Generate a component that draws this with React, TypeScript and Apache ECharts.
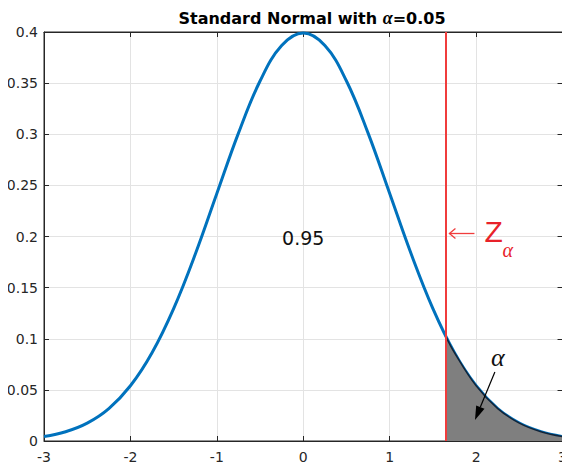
import React, { useEffect, useRef } from "react";
import * as echarts from "echarts";

const xs = [-3, -2.75, -2.5, -2.25, -2, -1.75, -1.5, -1.25, -1, -0.75, -0.5, -0.25, 0, 0.25, 0.5, 0.75, 1, 1.25, 1.5, 1.75, 2, 2.25, 2.5, 2.75, 3];
const density = [0.0044, 0.0091, 0.0175, 0.0317, 0.054, 0.0863, 0.1295, 0.1826, 0.242, 0.3011, 0.3521, 0.3867, 0.3989, 0.3867, 0.3521, 0.3011, 0.242, 0.1826, 0.1295, 0.0863, 0.054, 0.0317, 0.0175, 0.0091, 0.0044];
const tailX = [1.645, 1.75, 2, 2.25, 2.5, 2.75, 3];
const tailY = [0.1031, 0.0863, 0.054, 0.0317, 0.0175, 0.0091, 0.0044];
const zAlpha = 1.645;
const centerLabel = "0.95";
const titleParts = ["Standard Normal with ", "α", "=0.05"];

export default function App() {
  const ref = useRef<HTMLDivElement>(null);
  useEffect(() => {
    if (!ref.current) return;
    const chart = echarts.init(ref.current, null, { renderer: "svg" });
    const font = "'DejaVu Sans', sans-serif";
    const serif = "'Liberation Serif', 'DejaVu Serif', serif";
    const axisLine = { show: true, onZero: false, lineStyle: { color: "#262626", width: 1 } };
    const axisTick = { show: true, inside: true, length: 5, lineStyle: { color: "#262626" } };
    chart.setOption({
      animation: false,
      backgroundColor: "#fff",
      title: {
        text: `{b|${titleParts[0]}}{a|${titleParts[1]}}{b|${titleParts[2]}}`,
        left: 307,
        textAlign: "center",
        top: 4,
        textStyle: {
          rich: {
            b: { fontFamily: font, fontSize: 16, fontWeight: "bold", color: "#000" },
            a: { fontFamily: serif, fontSize: 18, fontStyle: "italic", color: "#000" },
          },
        },
      },
      grid: { left: 44, right: 5, top: 32, bottom: 29, show: true, borderColor: "#262626", borderWidth: 1, backgroundColor: "transparent" },
      xAxis: [
        {
          type: "value", min: -3, max: 3, interval: 1, position: "bottom",
          axisLine, axisTick,
          axisLabel: { color: "#262626", fontFamily: font, fontSize: 14, margin: 9 },
          splitLine: { show: true, lineStyle: { color: "#e3e3e3" } },
        },
        {
          type: "value", min: -3, max: 3, interval: 1, position: "top",
          axisLine, axisTick,
          axisLabel: { show: false }, splitLine: { show: false },
        },
      ],
      yAxis: [
        {
          type: "value", min: 0, max: 0.4, interval: 0.05, position: "left",
          axisLine, axisTick,
          axisLabel: { color: "#262626", fontFamily: font, fontSize: 14, margin: 6 },
          splitLine: { show: true, lineStyle: { color: "#e3e3e3" } },
        },
        {
          type: "value", min: 0, max: 0.4, interval: 0.05, position: "right",
          axisLine, axisTick,
          axisLabel: { show: false }, splitLine: { show: false },
        },
      ],
      series: [
        {
          type: "line",
          data: xs.map((x, i) => [x, density[i]]),
          smooth: 0.4,
          showSymbol: false,
          lineStyle: { color: "#0072BD", width: 3 },
          z: 2,
          markLine: {
            symbol: ["none", "none"],
            silent: true,
            label: { show: false },
            lineStyle: { color: "#f03c3c", width: 2, type: "solid" },
            data: [{ xAxis: zAlpha }],
          },
        },
        {
          type: "line",
          data: tailX.map((x, i) => [x, tailY[i]]),
          smooth: 0.4,
          showSymbol: false,
          lineStyle: { color: "#10243a", width: 1.5 },
          areaStyle: { color: "#7f7f7f", opacity: 1 },
          z: 3,
        },
      ],
    });
    const p = (x: number, y: number) => chart.convertToPixel({ xAxisIndex: 0, yAxisIndex: 0 }, [x, y]) as number[];
    const c = p(0, 0.2);
    const z = p(zAlpha, 0.2);
    const a = p(2.252, 0.082);
    const arrowStart = p(2.217, 0.0675);
    const arrowEnd = p(1.987, 0.0205);
    const dx = arrowEnd[0] - arrowStart[0];
    const dy = arrowEnd[1] - arrowStart[1];
    const len = Math.hypot(dx, dy);
    const ux = dx / len, uy = dy / len;
    const bx = arrowEnd[0] - ux * 14, by = arrowEnd[1] - uy * 14;
    const nx = -uy * 4.5, ny = ux * 4.5;
    chart.setOption({
      graphic: [
        { type: "text", z: 100, x: c[0], y: c[1] + 1, style: { text: centerLabel, fontFamily: font, fontSize: 19, fill: "#111", align: "center", verticalAlign: "middle" } },
        { type: "line", z: 100, shape: { x1: z[0] + 4, y1: z[1] - 3, x2: z[0] + 29, y2: z[1] - 3 }, style: { stroke: "#f03c3c", lineWidth: 1.3 } },
        { type: "polyline", z: 100, shape: { points: [[z[0] + 10, z[1] - 8], [z[0] + 4, z[1] - 3], [z[0] + 10, z[1] + 2]] }, style: { stroke: "#f03c3c", lineWidth: 1.3, fill: "none" } },
        { type: "text", z: 100, x: z[0] + 39, y: z[1] - 5, style: { text: "Z", fontFamily: "'Liberation Sans', Arial, sans-serif", fontSize: 30, fill: "#e8222a", verticalAlign: "middle" } },
        { type: "text", z: 100, x: z[0] + 57, y: z[1] + 13, style: { text: "α", fontFamily: serif, fontStyle: "italic", fontSize: 20, fill: "#e8222a", verticalAlign: "middle" } },
        { type: "text", z: 100, x: a[0], y: a[1], style: { text: "α", fontFamily: serif, fontStyle: "italic", fontSize: 26, fill: "#111", align: "center", verticalAlign: "middle" } },
        { type: "line", z: 100, shape: { x1: arrowStart[0], y1: arrowStart[1], x2: bx, y2: by }, style: { stroke: "#000", lineWidth: 1.2 } },
        { type: "polygon", z: 100, shape: { points: [[arrowEnd[0], arrowEnd[1]], [bx + nx, by + ny], [bx - nx, by - ny]] }, style: { fill: "#000" } },
      ],
    });
    return () => chart.dispose();
  }, []);
  return <div ref={ref} style={{ width: 570, height: 470, margin: -8 }} />;
}
